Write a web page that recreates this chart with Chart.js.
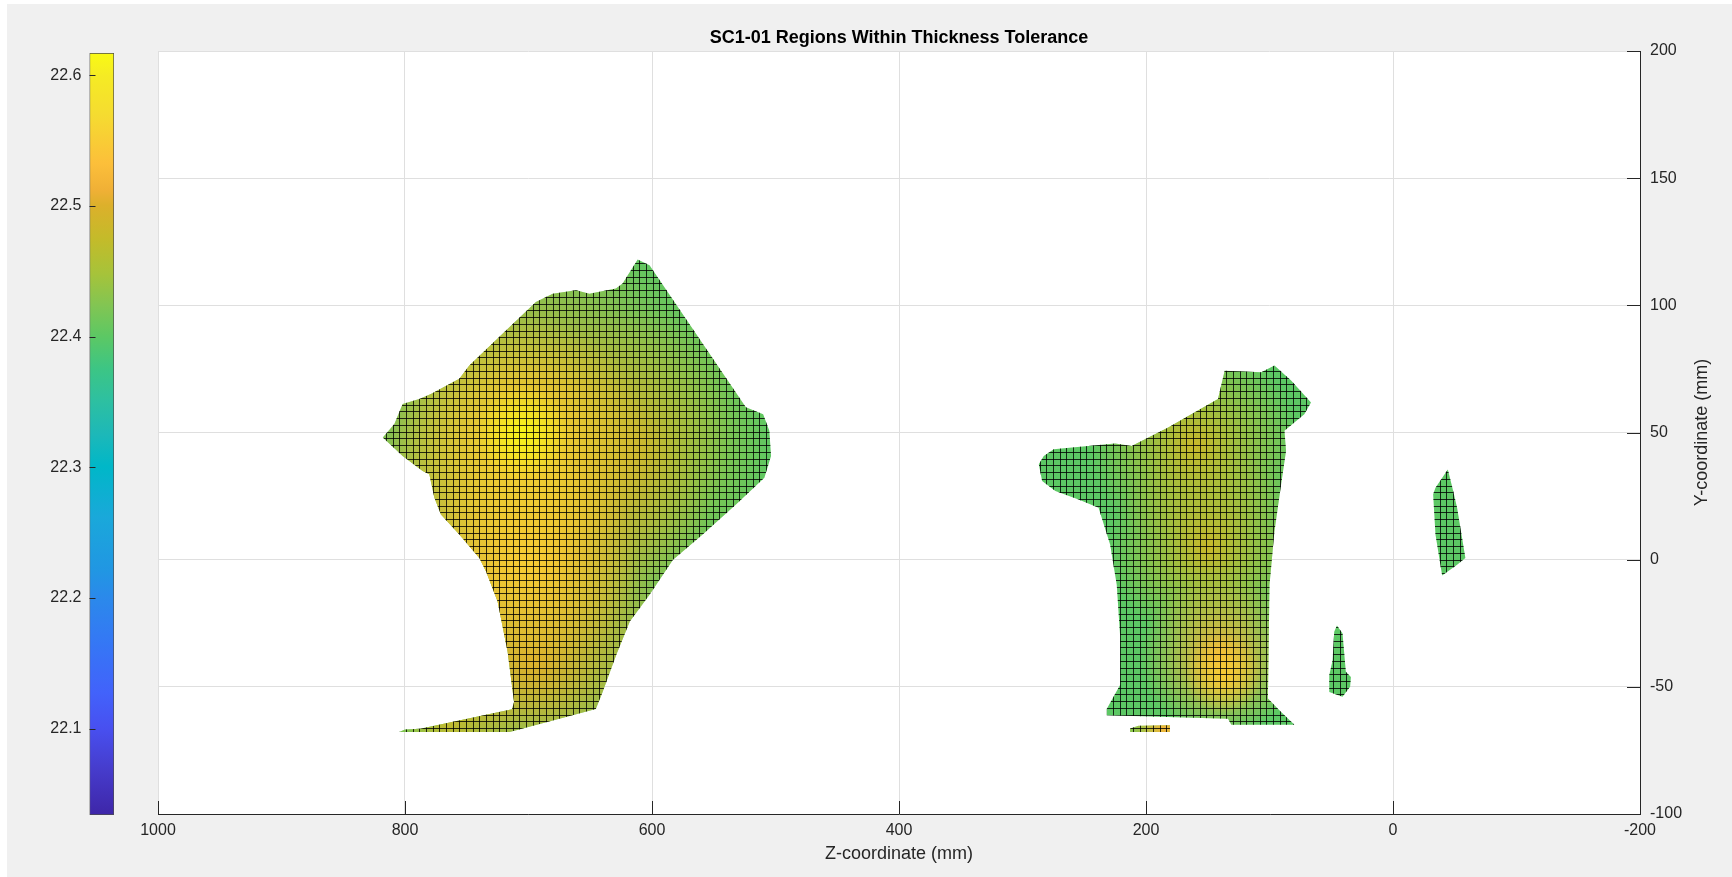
<!DOCTYPE html>
<html>
<head>
<meta charset="utf-8">
<title>SC1-01 Regions Within Thickness Tolerance</title>
<script src="https://cdn.jsdelivr.net/npm/chart.js@4.4.1/dist/chart.umd.min.js"></script>
<style>
  html, body { margin: 0; padding: 0; background: #fff; overflow: hidden; }
  #frame { position: absolute; left: 7px; top: 4px; width: 1725px; height: 873px; background: #f0f0f0; }
  #main, #cbar { position: absolute; left: 0; top: 0; }
</style>
</head>
<body>
<div id="frame"></div>
<canvas id="main" width="1732" height="877" style="width:1732px;height:877px"></canvas>
<canvas id="cbar" width="160" height="877" style="width:160px;height:877px"></canvas>
<script>
// --- DATA ---
const xTicks = [1000, 800, 600, 400, 200, 0, -200];
const yTicks = [-100, -50, 0, 50, 100, 150, 200];
const cTicks = [22.1, 22.2, 22.3, 22.4, 22.5, 22.6];
const cRange = [22.034, 22.617];

// region outlines, [z, y] in mm
const region1 = [
  [611.6, 118.0], [602, 115.8], [524, 59.9], [510, 57.2], [505, 50.7], [503.6, 40.8],
  [509, 32.2], [532, 21.7], [559, 9.9], [583, 0], [602, -13.8], [618, -24.3],
  [629, -37.5], [640, -52], [645.5, -58.7], [715.3, -67.8], [804.7, -67.8], [800, -66.8],
  [787.6, -66.5], [713.3, -58.8], [711.7, -56], [716.9, -36.2], [725, -16.4], [734.4, -4.6],
  [739.8, 0.7], [756, 9.9], [770.9, 17.8], [776.2, 24.3], [780.3, 33.6], [785.7, 34.9],
  [801.9, 40.8], [818, 48], [808.6, 53.3], [801.9, 61.2], [788.4, 63.2], [779, 65.1],
  [756, 71.1], [747.9, 76.3], [721, 88.8], [694, 101.3], [680.4, 104.6], [661.5, 105.9],
  [650.7, 104.6], [629.2, 106.6], [623.8, 108.6]
];
const region2 = [
  [136.3, 74.3], [106.7, 73.7], [96, 76.3], [82.5, 70.4], [66.4, 61.8], [71.8, 57.2],
  [87.9, 50.7], [86.6, 42.8], [90.6, 29.6], [96, 11.2], [100, -9.9], [101.3, -54.6],
  [90.6, -59.9], [79.8, -64.9], [130.9, -64.9], [133.6, -62.5], [231.7, -61.2], [231.7, -58.6],
  [221, -49.3], [221, -29.6], [223.7, -9.9], [229, 5.9], [238.4, 20.4], [254.6, 23.7],
  [273.4, 27], [284.1, 30.9], [286.8, 37.5], [282.8, 40.8], [274.7, 43.4], [259.9, 44.1],
  [225, 45.7], [211.6, 44.7], [182, 52], [141.7, 63.2]
];
const region3 = [
  [-44.4, 35.5], [-47.8, 28.9], [-51.9, 20.4], [-55.9, 8.6], [-58.6, 0.7], [-51.9, -2],
  [-39.8, -6.2], [-34.4, 9.9], [-32.5, 25.7], [-34.4, 28.3]
];
const region4 = [
  [45.4, -25.9], [40.9, -28.9], [38.2, -44.1], [34.1, -46.1], [34.7, -50], [40.9, -53.9],
  [51.6, -52], [51.6, -45.4], [48.9, -39.5], [47.6, -28.3]
];
const region5 = [
  [212.9, -66.4], [206.2, -65.3], [180.6, -65.1], [180.6, -67.8], [212.9, -67.8]
];

// thickness at the region edges (mm)
const regionBase = [22.40, 22.40, 22.40, 22.40, 22.43];

// thicker spots: [z, y, reach along Z (mm), thickness]
const region1Peaks = [
  [700, 55, 165, 22.50], [700, 5, 150, 22.50], [695, -40, 115, 22.50], [765, -62, 60, 22.47],
  [610, 45, 110, 22.46], [706, 45, 105, 22.56], [700, 0, 90, 22.55], [705, 50, 38, 22.61]
];
const region2Peaks = [
  [160, 45, 85, 22.48], [150, 5, 80, 22.48], [140, -38, 65, 22.52], [137, -45, 32, 22.55]
];
const region5Peaks = [[185, -66.5, 25, 22.52]];

const regions = [region1, region2, region3, region4, region5];
const peaks = [region1Peaks, region2Peaks, [], [], region5Peaks];

// surface mesh spacing (mm)
const meshStepZ = 5.4;
const meshStepY = 2.65;

// --- STYLE ---
const fontFamily = "'Liberation Sans', Arial, Helvetica, sans-serif";
const axisColor = '#262626';
Chart.defaults.font.family = fontFamily;

// parula colormap: [t, r, g, b]
const parulaStops = [
  [0.00, 62, 38, 168], [0.06, 70, 60, 204], [0.114, 72, 80, 240], [0.16, 66, 98, 251],
  [0.225, 53, 119, 245], [0.285, 43, 137, 235], [0.32, 33, 150, 227], [0.39, 26, 168, 218],
  [0.457, 0, 183, 200], [0.50, 29, 184, 184], [0.545, 46, 192, 160], [0.585, 60, 197, 133],
  [0.628, 92, 200, 100], [0.67, 131, 197, 82], [0.71, 166, 195, 58], [0.755, 195, 187, 42],
  [0.80, 220, 176, 43], [0.82, 240, 176, 54], [0.855, 252, 191, 58], [0.92, 245, 220, 48],
  [0.97, 245, 235, 36], [1.00, 249, 250, 20]
];

function parulaRGB(t) {
  t = Math.max(0, Math.min(1, t));
  for (let i = 1; i < parulaStops.length; i++) {
    const a = parulaStops[i - 1], b = parulaStops[i];
    if (t <= b[0]) {
      const f = (t - a[0]) / (b[0] - a[0]);
      return [1, 2, 3].map(k => Math.round(a[k] + (b[k] - a[k]) * f));
    }
  }
  return parulaStops[parulaStops.length - 1].slice(1);
}

function parula(v, alpha = 1) {
  const c = parulaRGB((v - cRange[0]) / (cRange[1] - cRange[0]));
  return `rgba(${c[0]}, ${c[1]}, ${c[2]}, ${alpha})`;
}

function radialFill(chart, pk) {
  const { x, y } = chart.scales;
  if (!chart.chartArea || !x || !y) return 'transparent';
  const cx = x.getPixelForValue(pk[0]);
  const cy = y.getPixelForValue(pk[1]);
  const r = Math.abs(x.getPixelForValue(pk[0] + pk[2]) - cx);
  const g = chart.ctx.createRadialGradient(cx, cy, 0, cx, cy, r);
  g.addColorStop(0, parula(pk[3], 1));
  g.addColorStop(1, parula(pk[3], 0));
  return g;
}

const toPoints = poly => poly.map(p => ({ x: p[0], y: p[1] }));

// --- DATASETS ---
const datasets = [];
regions.forEach((poly, i) => {
  datasets.push({
    data: toPoints(poly),
    fill: 'shape',
    backgroundColor: parula(regionBase[i]),
    borderColor: 'transparent',
    pointRadius: 0,
    order: 100
  });
  peaks[i].forEach(pk => {
    datasets.push({
      data: toPoints(poly),
      fill: 'shape',
      backgroundColor: c => radialFill(c.chart, pk),
      borderColor: 'transparent',
      pointRadius: 0,
      order: Math.round((22.7 - pk[3]) * 100)
    });
  });
});

// --- PLUGINS ---
const plotBackground = {
  id: 'plotBackground',
  beforeDraw(chart) {
    const { ctx, chartArea: a } = chart;
    ctx.save();
    ctx.fillStyle = '#ffffff';
    ctx.fillRect(a.left, a.top, a.right - a.left, a.bottom - a.top);
    ctx.restore();
  }
};

// black surface edges, clipped to each region
const meshLines = {
  id: 'meshLines',
  afterDatasetsDraw(chart) {
    const { ctx, chartArea: a, scales: { x, y } } = chart;
    ctx.save();
    ctx.strokeStyle = 'rgba(0, 0, 0, 0.8)';
    ctx.lineWidth = 1;
    regions.forEach(poly => {
      ctx.save();
      ctx.beginPath();
      poly.forEach((p, k) => {
        const px = x.getPixelForValue(p[0]), py = y.getPixelForValue(p[1]);
        if (k) ctx.lineTo(px, py); else ctx.moveTo(px, py);
      });
      ctx.closePath();
      ctx.clip();
      const zs = poly.map(p => p[0]), ys = poly.map(p => p[1]);
      ctx.beginPath();
      for (let z = Math.ceil(Math.min(...zs) / meshStepZ) * meshStepZ; z <= Math.max(...zs); z += meshStepZ) {
        const px = Math.round(x.getPixelForValue(z)) + 0.5;
        ctx.moveTo(px, a.top);
        ctx.lineTo(px, a.bottom);
      }
      for (let v = Math.ceil(Math.min(...ys) / meshStepY) * meshStepY; v <= Math.max(...ys); v += meshStepY) {
        const py = Math.round(y.getPixelForValue(v)) + 0.5;
        ctx.moveTo(a.left, py);
        ctx.lineTo(a.right, py);
      }
      ctx.stroke();
      ctx.restore();
    });
    ctx.restore();
  }
};

// inward tick marks and the rotated right-hand axis title
const axisDecor = {
  id: 'axisDecor',
  afterDraw(chart) {
    const { ctx, chartArea: a, scales: { x, y } } = chart;
    ctx.save();
    ctx.strokeStyle = axisColor;
    ctx.lineWidth = 1;
    ctx.beginPath();
    xTicks.forEach(v => {
      const px = Math.round(x.getPixelForValue(v)) + 0.5;
      ctx.moveTo(px, a.bottom);
      ctx.lineTo(px, a.bottom - 13);
    });
    yTicks.forEach(v => {
      const py = Math.round(y.getPixelForValue(v)) + 0.5;
      ctx.moveTo(a.right, py);
      ctx.lineTo(a.right - 13, py);
    });
    ctx.stroke();
    ctx.fillStyle = axisColor;
    ctx.font = '18px ' + fontFamily;
    ctx.textAlign = 'center';
    ctx.textBaseline = 'middle';
    ctx.translate(1702, (a.top + a.bottom) / 2);
    ctx.rotate(-Math.PI / 2);
    ctx.fillText('Y-coordinate (mm)', 0, 0);
    ctx.restore();
  }
};

const colorbarTicks = {
  id: 'colorbarTicks',
  afterDatasetsDraw(chart) {
    const { ctx, chartArea: a, scales: { y } } = chart;
    ctx.save();
    ctx.strokeStyle = axisColor;
    ctx.lineWidth = 1;
    ctx.beginPath();
    cTicks.forEach(v => {
      const py = Math.round(y.getPixelForValue(v)) + 0.5;
      ctx.moveTo(a.left, py);
      ctx.lineTo(a.left + 6, py);
    });
    ctx.stroke();
    ctx.restore();
  }
};

// --- MAIN CHART ---
new Chart(document.getElementById('main'), {
  type: 'line',
  data: { datasets },
  options: {
    responsive: false,
    animation: false,
    events: [],
    layout: { padding: { left: 158, right: 0, top: 0, bottom: 0 } },
    plugins: {
      legend: { display: false },
      tooltip: { enabled: false },
      title: {
        display: true,
        text: 'SC1-01 Regions Within Thickness Tolerance',
        fullSize: false,
        color: '#000',
        font: { size: 18, weight: 'bold' },
        padding: { top: 27, bottom: 2.4 }
      }
    },
    scales: {
      x: {
        type: 'linear',
        reverse: true,
        min: -200,
        max: 1000,
        afterBuildTicks: s => { s.ticks = xTicks.map(v => ({ value: v })); },
        afterFit: s => { s.height = 63; },
        grid: { color: '#dfdfdf', drawTicks: false },
        border: { color: axisColor, width: 1 },
        ticks: { color: axisColor, font: { size: 16 }, padding: 7, maxRotation: 0, autoSkip: false, callback: v => String(v) },
        title: { display: true, text: 'Z-coordinate (mm)', color: axisColor, font: { size: 18 }, padding: { top: 0, bottom: 12 } }
      },
      y: {
        type: 'linear',
        position: 'right',
        min: -100,
        max: 200,
        afterBuildTicks: s => { s.ticks = yTicks.map(v => ({ value: v })); },
        afterFit: s => { s.width = 92; },
        grid: { color: '#dfdfdf', drawTicks: false },
        border: { color: axisColor, width: 1 },
        ticks: { color: axisColor, font: { size: 16 }, padding: 10, autoSkip: false, callback: v => String(v) }
      }
    }
  },
  plugins: [plotBackground, meshLines, axisDecor]
});

// --- COLORBAR ---
new Chart(document.getElementById('cbar'), {
  type: 'bar',
  data: {
    labels: [''],
    datasets: [{
      data: [cRange],
      backgroundColor: c => {
        const { chart } = c;
        const a = chart.chartArea;
        if (!a) return 'transparent';
        const g = chart.ctx.createLinearGradient(0, a.bottom, 0, a.top);
        parulaStops.forEach(s => g.addColorStop(s[0], `rgb(${s[1]}, ${s[2]}, ${s[3]})`));
        return g;
      },
      borderColor: '#4d4d4d',
      borderWidth: 1,
      borderSkipped: false,
      barPercentage: 1,
      categoryPercentage: 1
    }]
  },
  options: {
    responsive: false,
    animation: false,
    events: [],
    layout: { padding: { left: 0, right: 46, top: 53, bottom: 62 } },
    plugins: { legend: { display: false }, tooltip: { enabled: false } },
    scales: {
      x: { display: false },
      y: {
        min: cRange[0],
        max: cRange[1],
        afterBuildTicks: s => { s.ticks = cTicks.map(v => ({ value: v })); },
        afterFit: s => { s.width = 89.5; },
        grid: { display: false, drawTicks: false },
        border: { display: false },
        ticks: { color: axisColor, font: { size: 16 }, padding: 8, callback: v => v.toFixed(1) }
      }
    }
  },
  plugins: [colorbarTicks]
});
</script>
</body>
</html>
